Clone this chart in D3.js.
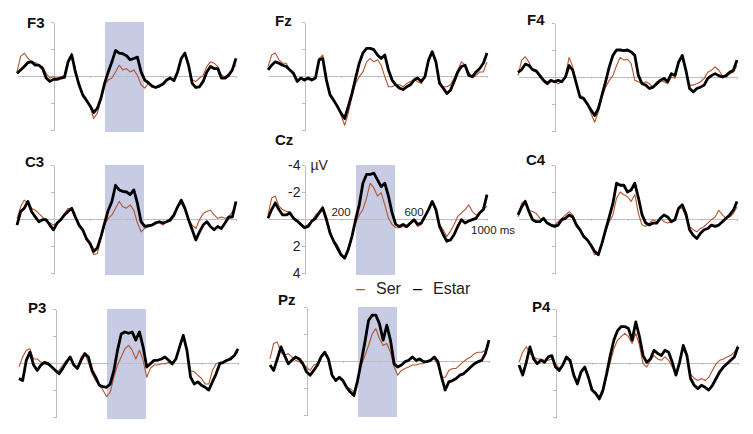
<!DOCTYPE html>
<html>
<head>
<meta charset="utf-8">
<script src="https://cdn.jsdelivr.net/npm/d3@7"></script>
<style>
  body { margin: 0; background: #fff; }
  svg { display: block; font-family: "Liberation Sans", Arial, sans-serif; }
  .panel-label { font-weight: bold; font-size: 15px; fill: #111; }
  .axis path, .axis line { stroke: #bdbdbd; stroke-width: 1; shape-rendering: crispEdges; }
  .axis text { display: none; }
  .tick-label { font-size: 14px; fill: #222; }
  .time-label { font-size: 11.5px; fill: #222; }
  .legend text { font-size: 16px; fill: #222; }
</style>
</head>
<body>
<div id="chart"></div>
<script>
// sample times (ms), one point every 20 ms
const times = d3.range(-200, 1001, 20);

// amplitudes in microvolts (negative plotted up)
const f3Ser   = [-0.3,-1.45,-1.7,-1.3,-1.05,-1.0,-0.8,-0.7,-0.2,0.15, 0.05,0.15,0.05,-0.05,-1.2,-1.7,-0.45,0.65,1.4,1.65, 2.25,3.15,2.75,1.8,0.65,0.3,0.15,-0.3,-0.8,-0.45, -0.55,-0.3,-0.45,-0.05,0.65,0.9,0.55,0.75,0.8,0.65, 0.5,0.3,0.1,0.3,-0.3,-1.2,-1.7,-0.8,0.3,0.4, 0.15,-0.05,-0.7,-1.05,-0.95,-0.7,-0.05,0.05,-0.2,-0.55, -0.8];
const f3Estar = [-0.2,-0.45,-0.7,-1.0,-1.05,-0.8,-0.8,-0.55,0.15,0.4, 0.25,0.25,0.15,0.1,-1.05,-1.55,-0.3,0.65,1.4,1.8, 2.2,2.7,2.4,1.65,0.55,-0.3,-1.05,-1.9,-1.7,-1.65, -1.5,-1.2,-1.3,-1.4,-0.3,0.3,0.5,0.75,0.85,0.75, 0.6,0.3,0.15,0.35,-0.3,-1.3,-1.7,-0.8,0.55,0.85, 0.8,0.4,-0.3,-0.7,-0.55,-0.55,0.15,0.15,-0.05,-0.45, -1.3];
const fzSer   = [-0.7,-1.55,-1.7,-1.2,-0.95,-0.95,-0.45,-0.05,0.3,0.15, 0.3,0.25,0.3,0.05,-1.3,-1.55,0.05,1.4,1.8,2.25, 2.9,3.65,2.75,1.55,0.55,0.05,-0.3,-1.05,-1.3,-1.05, -1.2,-0.8,0.05,0.8,0.8,0.65,0.65,0.8,0.55,0.4, 0.3,0.4,0.55,0.05,-1.05,-1.7,-1.05,0.4,0.8,0.8, 0.65,0.15,-0.45,-1.05,-0.8,-0.3,0.15,-0.05,-0.3,-0.3, -1.05];
const fzEstar = [-0.45,-0.8,-1.05,-0.95,-0.8,-0.7,-0.45,-0.2,0.4,0.15, 0.3,0.15,0.3,0.15,-1.2,-1.3,0.3,1.4,1.8,2.25, 2.75,3.15,2.25,1.3,0.15,-0.95,-1.7,-2.05,-2.05,-1.95, -1.55,-1.3,-1.55,-0.45,0.3,0.65,0.9,1.0,0.8,0.65, 0.3,0.15,0.4,0.05,-1.2,-1.8,-1.05,0.55,0.9,1.3, 1.05,0.4,-0.3,-0.7,-0.8,-0.05,0.05,-0.3,-0.55,-0.95, -1.7];
const f4Ser   = [-0.1,-1.25,-1.5,-1.1,-0.5,-0.35,0,0.25,0.35,0.25, 0.35,0.5,0.35,-0.1,-1.45,-0.75,0.5,1.35,1.5,2.0, 2.7,3.35,2.6,1.5,0.75,0.25,-0.1,-0.85,-1.45,-1.25, -1.3,-1.0,0.25,0.35,0.5,0.35,0.5,0.75,0.35,0.25, 0.35,0.5,0,0.1,-1.0,-1.5,-0.35,0.6,0.6,0.5, 0.35,0.1,-0.35,-0.5,-0.75,-0.5,-0.1,0,-0.25,-0.35, -0.85];
const f4Estar = [-0.35,-0.55,-0.95,-0.85,-0.55,-0.45,-0.1,0.25,0.5,0.25, 0.35,0.25,0.35,0,-0.85,-0.5,0.5,1.5,1.6,2.0, 2.45,2.85,2.35,1.35,0.35,-0.75,-1.6,-2.0,-2.0,-1.95, -2.0,-1.85,-1.6,-0.1,0.5,0.6,0.85,0.75,0.5,0.25, 0.1,0.35,-0.25,-0.1,-1.1,-1.6,-0.5,0.85,1.1,0.85, 0.75,0.6,0.1,-0.1,-0.25,-0.1,0,-0.1,-0.35,-0.5, -1.25];
const c3Ser   = [-0.05,-0.9,-1.4,-1.15,-0.8,-0.65,-0.4,-0.15,0.2,0.3, 0.45,0.3,0.05,-0.4,-0.8,-0.65,-0.05,0.55,0.8,1.3, 1.95,2.65,2.55,1.45,0.45,-0.05,-0.3,-0.8,-1.3,-0.9, -0.8,-1.05,-0.65,0.3,0.95,0.7,0.55,0.45,0.2,0.3, 0.45,0.2,0.2,-0.15,-0.9,-1.15,-0.65,0.05,0.45,0.7, 0.05,-0.4,-0.55,-0.65,-0.3,-0.05,-0.15,-0.05,-0.15,-0.55, -1.05];
const c3Estar = [0.45,-0.55,-0.8,-1.3,-0.55,-0.15,0.2,0.05,0.05,0.45, 0.8,0.3,0.05,-0.3,-0.55,-0.8,-0.15,0.45,0.8,1.45, 1.8,2.4,2.15,1.3,0.3,-0.65,-1.3,-2.5,-2.15,-2.05, -2.0,-1.8,-2.15,-1.15,0.2,0.55,0.5,0.45,0.3,0.2, 0.3,0.2,0.05,-0.3,-0.9,-1.4,-0.8,0.05,0.8,1.55, 0.95,0.45,0.2,0.55,0.8,0.55,0.7,0.3,-0.15,-0.15, -1.3];
const czSer   = [-0.3,-1.55,-1.7,-0.95,-0.7,-0.55,-0.55,-0.05,0.15,0.4, 0.55,0.4,0.15,-0.3,-0.55,-0.95,-0.2,0.9,1.65,1.9, 2.5,2.9,2.4,1.3,0.3,-0.3,-0.7,-1.55,-2.65,-2.3, -1.7,-1.95,-1.05,-0.05,0.4,0.65,0.65,0.55,0.65,0.4, 0.15,0.55,0.4,-0.2,-0.8,-1.2,-0.55,0.4,0.8,1.3, 0.9,0.4,-0.2,-0.45,-0.7,-1.05,-0.55,-0.3,-0.45,-0.7, -0.95];
const czEstar = [-0.05,-0.7,-1.2,-0.7,-0.3,-0.3,-0.45,-0.05,0.15,0.4, 0.65,0.55,0.15,-0.05,-0.45,-0.8,0.05,1.05,1.65,2.15, 2.65,2.9,2.25,1.3,0.05,-1.05,-2.65,-3.3,-3.3,-3.4, -2.9,-2.4,-2.65,-1.7,-0.45,0.4,0.55,0.4,0.55,0.3, 0.05,0.4,0.3,-0.2,-0.7,-1.3,-0.7,0.55,1.15,1.65, 1.55,1.15,0.55,0.05,0.3,0.15,0.05,-0.05,-0.45,-0.7, -1.8];
const c4Ser   = [-0.15,-1.15,-1.4,-0.65,-0.55,-0.4,-0.05,0.05,0.3,0.45, 0.45,0.2,-0.05,-0.3,-0.55,-0.3,0.3,0.7,1.2,1.55, 2.05,2.65,2.55,1.8,0.95,0.2,-0.3,-1.55,-2.0,-1.8, -1.65,-1.3,-1.8,-0.4,0.45,0.55,0.3,0.05,0.2,-0.05, 0.2,0.3,0.2,-0.05,-0.8,-0.8,-0.15,0.55,0.8,0.95, 0.7,0.55,0.3,0.05,-0.15,-0.65,-0.3,-0.05,-0.15,-0.4, -0.9];
const c4Estar = [-0.3,-0.9,-1.3,-0.55,0.05,0.2,0.2,-0.05,0.3,0.45, 0.55,0.45,0.05,-0.05,-0.3,-0.15,0.45,0.8,1.3,1.55, 1.95,2.4,2.65,1.8,0.8,-0.15,-1.15,-2.65,-2.5,-2.5, -2.0,-2.15,-2.65,-1.55,-0.3,0.3,0.45,0.3,0.3,-0.05, -0.3,-0.15,0.2,0.05,-0.8,-1.05,-0.4,0.8,1.2,1.45, 1.05,0.8,0.7,0.45,0.55,0.45,0.2,-0.05,-0.3,-0.65, -1.3];
const p3Ser   = [0.3,-0.45,-0.95,-1.05,-0.3,-0.3,-0.05,0.05,0.15,0.3, 0.65,0.55,0.15,-0.2,-0.3,0.05,0.4,-0.45,-0.7,-0.05, 0.8,1.3,1.65,2.0,2.5,2.15,1.05,0.15,-0.45,-1.05, -1.3,-0.95,-0.3,-0.95,-0.2,1.05,0.4,0.15,0.15,0.05, 0.05,-0.05,0.15,-0.3,-1.2,-1.95,-0.8,0.55,0.65,0.9, 1.15,1.55,1.55,0.55,0.05,-0.05,-0.05,-0.2,-0.45,-0.55, -0.8];
const p3Estar = [1.15,1.3,-0.2,-0.8,0.15,0.55,0.15,-0.05,0.05,0.3, 0.55,0.8,0.4,-0.05,-0.45,0.15,0.4,-0.2,-0.7,-0.45, 0.55,1.05,1.65,1.75,1.8,1.55,0.55,-0.95,-2.15,-2.3, -2.2,-2.3,-1.7,-2.3,-1.2,0.3,0.05,-0.2,-0.2,-0.3, -0.45,-0.2,0.05,-0.3,-1.2,-2.05,-0.95,1.05,1.55,1.4, 1.65,1.8,2.0,1.4,0.8,0.05,-0.05,-0.2,-0.3,-0.55, -1.05];
const pzSer   = [-0.15,-1.3,-1.4,-0.65,-0.4,-0.55,-0.3,-0.05,0.05,0.3, 0.45,0.7,0.3,0.2,-0.3,-0.65,-0.05,1.05,1.45,1.3, 1.55,1.95,2.05,2.3,1.45,0.3,-0.4,-1.15,-2.0,-2.4, -1.65,-1.15,-1.3,-0.65,0.45,1.05,0.7,0.55,0.45,0.3, 0.3,0.2,0.2,0.05,-0.05,-0.15,0.3,1.2,1.2,0.7, 0.55,0.55,0.3,0.05,-0.15,-0.3,-0.55,-0.65,-0.65,-0.8, -1.15];
const pzEstar = [0.3,0.7,-0.15,-1.05,-0.4,0.2,-0.05,-0.3,-0.15,0.2, 0.8,1.05,0.7,0.3,-0.3,-0.65,-0.15,1.05,1.45,1.2, 1.45,1.95,2.3,2.55,1.45,0.05,-1.4,-3.0,-3.4,-3.4, -2.75,-1.55,-2.65,-1.55,0.2,0.45,0.3,0.05,-0.05,-0.3, -0.05,-0.15,0.05,0.05,-0.05,-0.3,0.05,1.2,2.15,1.55, 1.45,1.3,1.05,0.95,0.7,0.45,0.2,0.05,-0.05,-0.55, -1.55];
const p4Ser   = [-0.05,-0.8,-1.2,-0.7,-0.45,-0.3,-0.3,-0.2,-0.2,-0.3, 0.05,0.4,0.15,-0.3,-0.05,0.8,1.4,0.8,0.4,1.05, 1.9,2.25,2.75,2.25,1.05,-0.05,-1.05,-1.7,-1.95,-2.2, -1.95,-1.45,-2.2,-1.3,0.05,0.3,-0.2,-0.55,-0.3,-0.2, -0.45,-0.2,0.3,0.9,0.05,-1.05,-0.45,0.8,1.15,1.3, 1.15,1.3,1.05,0.55,0.05,-0.2,-0.3,-0.45,-0.55,-0.8, -1.3];
const p4Estar = [0.15,0.9,-0.05,-1.2,-0.3,0.05,-0.2,-0.05,-0.45,-0.55, 0.3,0.55,0.15,-0.45,-0.2,0.9,1.55,0.65,0.3,1.05, 2.0,2.25,2.65,2.0,0.8,-0.55,-1.7,-2.4,-2.7,-2.7, -2.55,-1.7,-3.05,-1.95,-0.55,-0.05,-0.3,-0.95,-0.7,-0.55, -0.95,-0.8,-0.05,0.9,-0.05,-1.3,-0.55,1.15,1.65,1.9, 1.65,1.8,2.0,1.65,1.15,0.65,0.3,0.05,-0.2,-0.45, -1.2];

const conditions = ['Ser', 'Estar'];
const yTickValues = [-4, -2, 2, 4];
const xTickValues = [200, 400, 600, 800, 1000];
const xTickLabels = ['200', '600', '1000 ms'];
const windowMs = [282, 496];

const waves = {
  F3: [f3Ser, f3Estar], Fz: [fzSer, fzEstar], F4: [f4Ser, f4Estar],
  C3: [c3Ser, c3Estar], Cz: [czSer, czEstar], C4: [c4Ser, c4Estar],
  P3: [p3Ser, p3Estar], Pz: [pzSer, pzEstar], P4: [p4Ser, p4Estar]
};

const colors = { Ser: '#b4532f', Estar: '#000' };

class ErpPanel {
  constructor(_config, _data) {
    this.config = {
      svg: _config.svg,
      name: _config.name,
      left: _config.left,
      zeroY: _config.zeroY,
      labelX: _config.labelX,
      labelY: _config.labelY,
      showWindow: _config.showWindow,
      showScale: _config.showScale || false,
      width: 219,
      halfHeight: 54
    };
    this.data = _data;
    this.initVis();
  }

  initVis() {
    let vis = this;
    const c = vis.config;

    vis.x = d3.scaleLinear().domain([-200, 1000]).range([c.left, c.left + c.width]);
    vis.y = d3.scaleLinear().domain([-4, 4]).range([c.zeroY - c.halfHeight, c.zeroY + c.halfHeight]);

    vis.g = c.svg.append('g').attr('class', 'panel');

    if (c.showWindow) {
      vis.g.append('rect')
          .attr('x', vis.x(windowMs[0]))
          .attr('y', vis.y(-4))
          .attr('width', vis.x(windowMs[1]) - vis.x(windowMs[0]))
          .attr('height', vis.y(4) - vis.y(-4) + 2)
          .attr('fill', '#c7cbe4');
    }

    // y axis sits at 0 ms
    vis.g.append('g')
        .attr('class', 'axis')
        .attr('transform', `translate(${Math.round(vis.x(0))},0)`)
        .call(d3.axisLeft(vis.y).tickValues(yTickValues).tickSize(3).tickSizeOuter(0));

    // x axis runs along 0 microvolts
    vis.g.append('g')
        .attr('class', 'axis')
        .attr('transform', `translate(0,${Math.round(vis.y(0))})`)
        .call(d3.axisBottom(vis.x).tickValues(xTickValues).tickSize(2).tickSizeOuter(0));

    vis.g.append('text')
        .attr('class', 'panel-label')
        .attr('x', c.labelX)
        .attr('y', c.labelY)
        .text(c.name);

    if (c.showScale) vis.drawScale();

    vis.renderVis();
  }

  drawScale() {
    let vis = this;
    const x0 = vis.x(0);

    vis.g.selectAll('.tick-label')
        .data(yTickValues)
      .join('text')
        .attr('class', 'tick-label')
        .attr('text-anchor', 'end')
        .attr('x', x0 - 4)
        .attr('y', d => vis.y(d))
        .attr('dy', '.36em')
        .text(d => d);

    vis.g.append('text')
        .attr('class', 'tick-label')
        .attr('x', x0 + 6)
        .attr('y', vis.y(-4))
        .attr('dy', '.36em')
        .text('\u00b5V');

    vis.g.append('text')
        .attr('class', 'time-label')
        .attr('text-anchor', 'middle')
        .attr('x', vis.x(200))
        .attr('y', vis.y(0) - 3)
        .text(xTickLabels[0]);

    vis.g.append('text')
        .attr('class', 'time-label')
        .attr('text-anchor', 'middle')
        .attr('x', vis.x(600))
        .attr('y', vis.y(0) - 3)
        .text(xTickLabels[1]);

    vis.g.append('text')
        .attr('class', 'time-label')
        .attr('x', vis.x(1000) - 16)
        .attr('y', vis.y(0) + 15)
        .text(xTickLabels[2]);
  }

  renderVis() {
    let vis = this;

    const line = d3.line()
        .x((d, i) => vis.x(times[i]))
        .y(d => vis.y(d));

    vis.g.selectAll('.wave')
        .data(vis.data)
      .join('path')
        .attr('class', 'wave')
        .attr('fill', 'none')
        .attr('stroke', (d, i) => colors[conditions[i]])
        .attr('stroke-width', (d, i) => i === 0 ? 1.1 : 2.8)
        .attr('stroke-linejoin', 'round')
        .attr('d', line);
  }
}

const svg = d3.select('#chart').append('svg')
    .attr('width', 753)
    .attr('height', 434);

const layout = [
  {name: 'F3', left: 17,  zeroY: 76,  labelX: 27,  labelY: 28,  showWindow: true},
  {name: 'Fz', left: 268, zeroY: 76,  labelX: 275, labelY: 26,  showWindow: false},
  {name: 'F4', left: 518, zeroY: 77,  labelX: 527, labelY: 25,  showWindow: false},
  {name: 'C3', left: 17,  zeroY: 219, labelX: 25,  labelY: 167, showWindow: true},
  {name: 'Cz', left: 268, zeroY: 219, labelX: 275, labelY: 145, showWindow: true, showScale: true},
  {name: 'C4', left: 518, zeroY: 219, labelX: 526, labelY: 165, showWindow: false},
  {name: 'P3', left: 19,  zeroY: 363, labelX: 28,  labelY: 313, showWindow: true},
  {name: 'Pz', left: 270, zeroY: 361, labelX: 278, labelY: 305, showWindow: true},
  {name: 'P4', left: 519, zeroY: 363, labelX: 532, labelY: 312, showWindow: false}
];

layout.forEach(p => new ErpPanel(Object.assign({svg: svg}, p), waves[p.name]));

// legend under Cz
const legend = svg.append('g').attr('class', 'legend');
const legendItems = [
  {name: conditions[0], x: 356},
  {name: conditions[1], x: 413}
];
legendItems.forEach(d => {
  legend.append('text')
      .attr('x', d.x)
      .attr('y', 294)
      .style('fill', colors[d.name])
      .text('\u2013');
  legend.append('text')
      .attr('x', d.x + 20)
      .attr('y', 294)
      .text(d.name);
});
</script>
</body>
</html>
